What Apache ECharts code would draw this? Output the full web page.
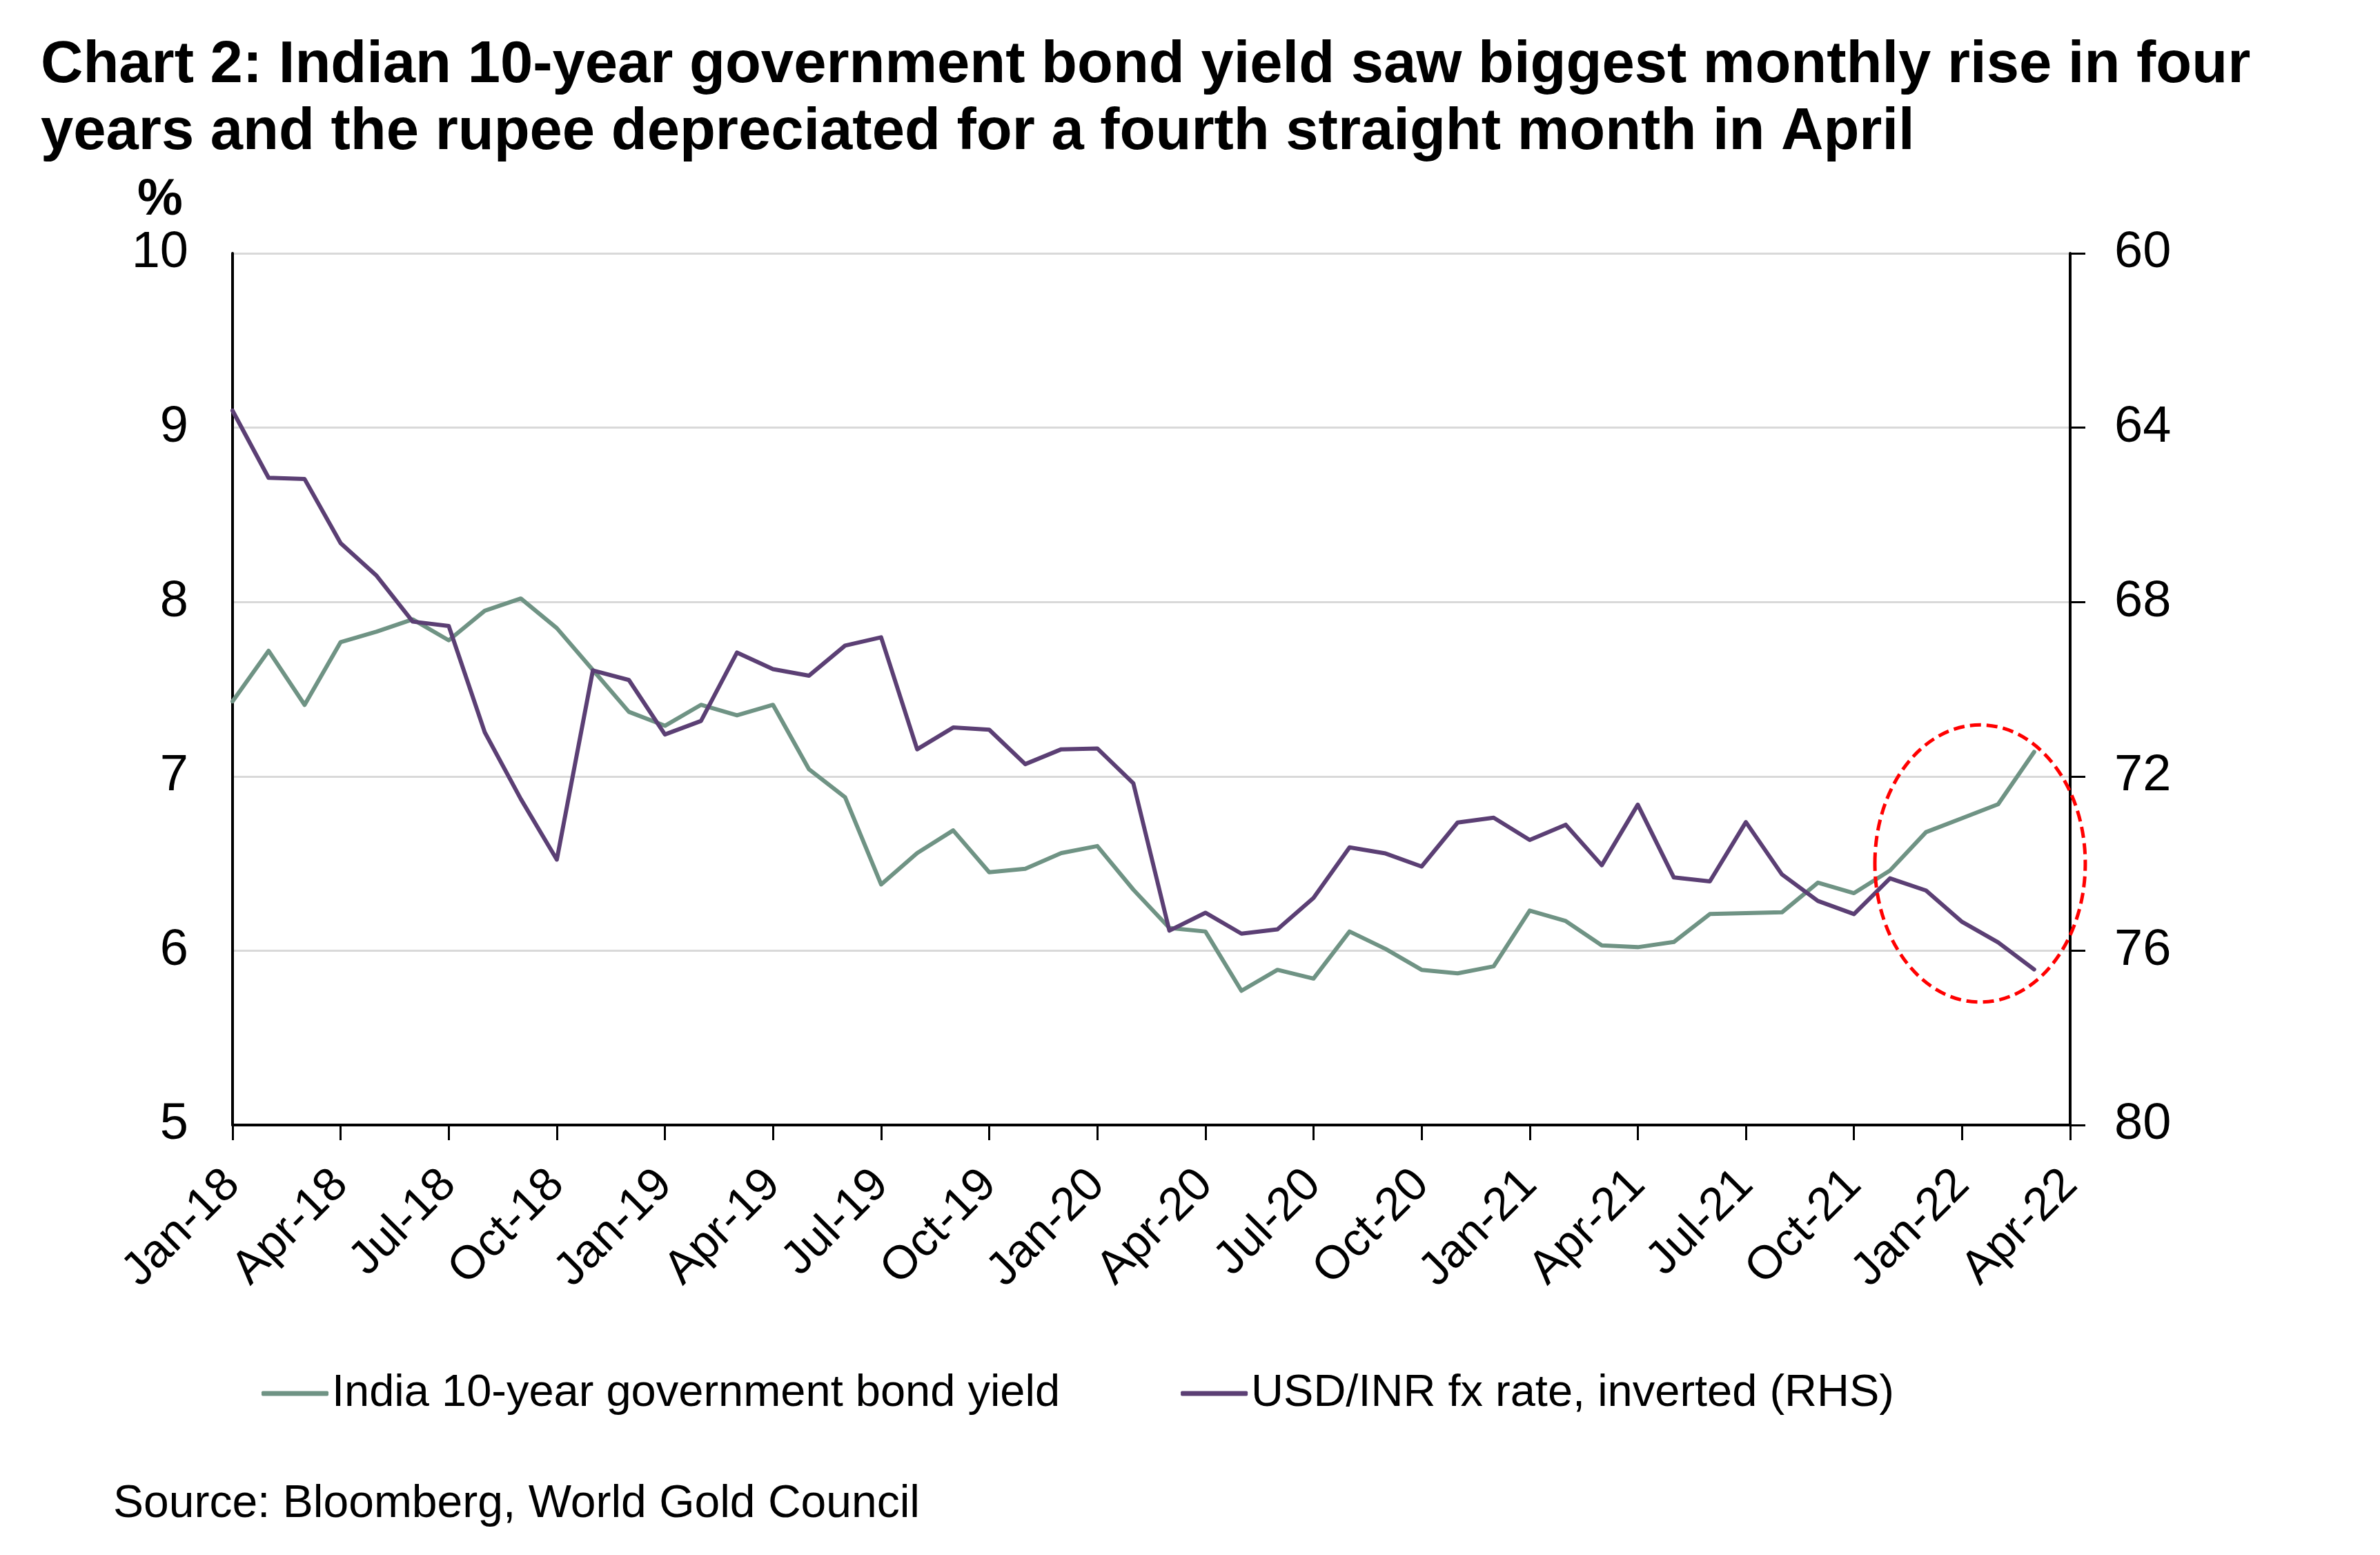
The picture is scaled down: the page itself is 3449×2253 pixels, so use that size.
<!DOCTYPE html>
<html>
<head>
<meta charset="utf-8">
<script src="https://cdn.jsdelivr.net/npm/echarts@6/dist/echarts.min.js"></script>
<style>
html,body{margin:0;padding:0;background:#fff;}
#c{width:3449px;height:2253px;}
</style>
</head>
<body>
<div id="c"></div>
<script>
var categories = ['Jan-18','Feb-18','Mar-18','Apr-18','May-18','Jun-18','Jul-18','Aug-18','Sep-18','Oct-18','Nov-18','Dec-18',
'Jan-19','Feb-19','Mar-19','Apr-19','May-19','Jun-19','Jul-19','Aug-19','Sep-19','Oct-19','Nov-19','Dec-19',
'Jan-20','Feb-20','Mar-20','Apr-20','May-20','Jun-20','Jul-20','Aug-20','Sep-20','Oct-20','Nov-20','Dec-20',
'Jan-21','Feb-21','Mar-21','Apr-21','May-21','Jun-21','Jul-21','Aug-21','Sep-21','Oct-21','Nov-21','Dec-21',
'Jan-22','Feb-22','Mar-22','Apr-22'];

var bondYield = [7.43, 7.72, 7.41, 7.77, 7.83, 7.90, 7.78, 7.95, 8.02, 7.85, 7.61, 7.37,
7.29, 7.41, 7.35, 7.41, 7.04, 6.88, 6.38, 6.56, 6.69, 6.45, 6.47, 6.56,
6.60, 6.35, 6.13, 6.11, 5.77, 5.89, 5.84, 6.11, 6.01, 5.89, 5.87, 5.91,
6.23, 6.17, 6.03, 6.02, 6.05, 6.21, 6.215, 6.22, 6.39, 6.33, 6.46, 6.68,
6.76, 6.84, 7.14];

var usdInr = [63.61, 65.15, 65.18, 66.65, 67.40, 68.45, 68.55, 70.99, 72.52, 73.91, 69.57, 69.79,
71.04, 70.73, 69.16, 69.54, 69.69, 69.00, 68.81, 71.38, 70.88, 70.93, 71.72, 71.38,
71.36, 72.16, 75.54, 75.13, 75.61, 75.51, 74.79, 73.63, 73.77, 74.07, 73.06, 72.95,
73.46, 73.11, 74.04, 72.65, 74.32, 74.41, 73.05, 74.25, 74.86, 75.16, 74.34, 74.62,
75.34, 75.81, 76.43];

var leftTicks = {min: 5, max: 10, interval: 1};
var rightTicks = {min: 60, max: 80, interval: 4};

var seriesNames = ['India 10-year government bond yield', 'USD/INR fx rate, inverted (RHS)'];
var titleText = 'Chart 2: Indian 10-year government bond yield saw biggest monthly rise in four\nyears and the rupee depreciated for a fourth straight month in April';
var sourceText = 'Source: Bloomberg, World Gold Council';

var GREEN = '#6f9384';
var PURPLE = '#5b3f74';
var FONT = '"Liberation Sans", Arial, sans-serif';

var chart = echarts.init(document.getElementById('c'), null, {renderer: 'canvas'});

chart.setOption({
  animation: false,
  backgroundColor: '#fff',
  textStyle: {fontFamily: FONT},
  title: {
    text: titleText,
    left: 59, top: 47, padding: 0,
    textStyle: {fontFamily: FONT, fontSize: 85, fontWeight: 'bold', color: '#000', lineHeight: 97}
  },
  grid: {left: 337, right: 449, top: 367, bottom: 623, containLabel: false},
  legend: {
    left: 374, top: 1976,
    itemWidth: 97, itemHeight: 7, itemGap: 175,
    icon: 'roundRect',
    textStyle: {fontFamily: FONT, fontSize: 65, color: '#000', lineHeight: 76},
    data: [
      {name: seriesNames[0], itemStyle: {color: GREEN}},
      {name: seriesNames[1], itemStyle: {color: PURPLE}}
    ]
  },
  xAxis: {
    type: 'category',
    data: categories,
    boundaryGap: false,
    axisLine: {show: true, lineStyle: {color: '#000', width: 4}},
    axisTick: {show: true, interval: 2, length: 22, lineStyle: {color: '#000', width: 3}},
    axisLabel: {interval: 2, rotate: 45, margin: 76, fontSize: 68, color: '#000', fontFamily: FONT},
    splitLine: {show: false}
  },
  yAxis: [
    {
      type: 'value', position: 'left',
      min: leftTicks.min, max: leftTicks.max, interval: leftTicks.interval,
      axisLine: {show: true, lineStyle: {color: '#000', width: 4}},
      axisTick: {show: false},
      axisLabel: {margin: 64, fontSize: 74, color: '#000', fontFamily: FONT},
      splitLine: {show: true, lineStyle: {color: '#d9d9d9', width: 3}}
    },
    {
      type: 'value', position: 'right', inverse: true,
      min: rightTicks.min, max: rightTicks.max, interval: rightTicks.interval,
      axisLine: {show: true, lineStyle: {color: '#000', width: 4}},
      axisTick: {show: true, inside: false, length: 22, lineStyle: {color: '#000', width: 3}},
      axisLabel: {margin: 64, fontSize: 74, color: '#000', fontFamily: FONT},
      splitLine: {show: false}
    }
  ],
  series: [
    {
      name: seriesNames[0], type: 'line', yAxisIndex: 0, data: bondYield,
      symbol: 'none', showSymbol: false, smooth: false, z: 3,
      lineStyle: {color: GREEN, width: 6, cap: 'round', join: 'round'},
      itemStyle: {color: GREEN}
    },
    {
      name: seriesNames[1], type: 'line', yAxisIndex: 1, data: usdInr,
      symbol: 'none', showSymbol: false, smooth: false, z: 4,
      lineStyle: {color: PURPLE, width: 6, cap: 'round', join: 'round'},
      itemStyle: {color: PURPLE}
    }
  ]
});

// annotation ellipse around latest months, positioned through the axes
var p0 = chart.convertToPixel({xAxisIndex: 0, yAxisIndex: 0}, [48, 6.5]);
var p1 = chart.convertToPixel({xAxisIndex: 0, yAxisIndex: 0}, [49, 7.5]);
var monthPx = p1[0] - p0[0];
var unitPx = p0[1] - p1[1];
var cx = (p0[0] + p1[0]) / 2;
var cy = p0[1];

chart.setOption({
  graphic: [
    {
      type: 'ellipse', z: 100,
      shape: {cx: cx, cy: cy, rx: monthPx * 2.92, ry: unitPx * 0.795},
      style: {fill: 'none', stroke: '#ff0000', lineWidth: 5, lineDash: [16, 8]}
    },
    {
      type: 'text', z: 100,
      style: {text: '%', x: 232, y: 291, fill: '#000', font: 'bold 74px ' + FONT, textAlign: 'center', textVerticalAlign: 'middle'}
    },
    {
      type: 'text', z: 100,
      style: {text: sourceText, x: 164, y: 2180, fill: '#000', font: '66px ' + FONT, textAlign: 'left', textVerticalAlign: 'middle'}
    }
  ]
});
</script>
</body>
</html>
